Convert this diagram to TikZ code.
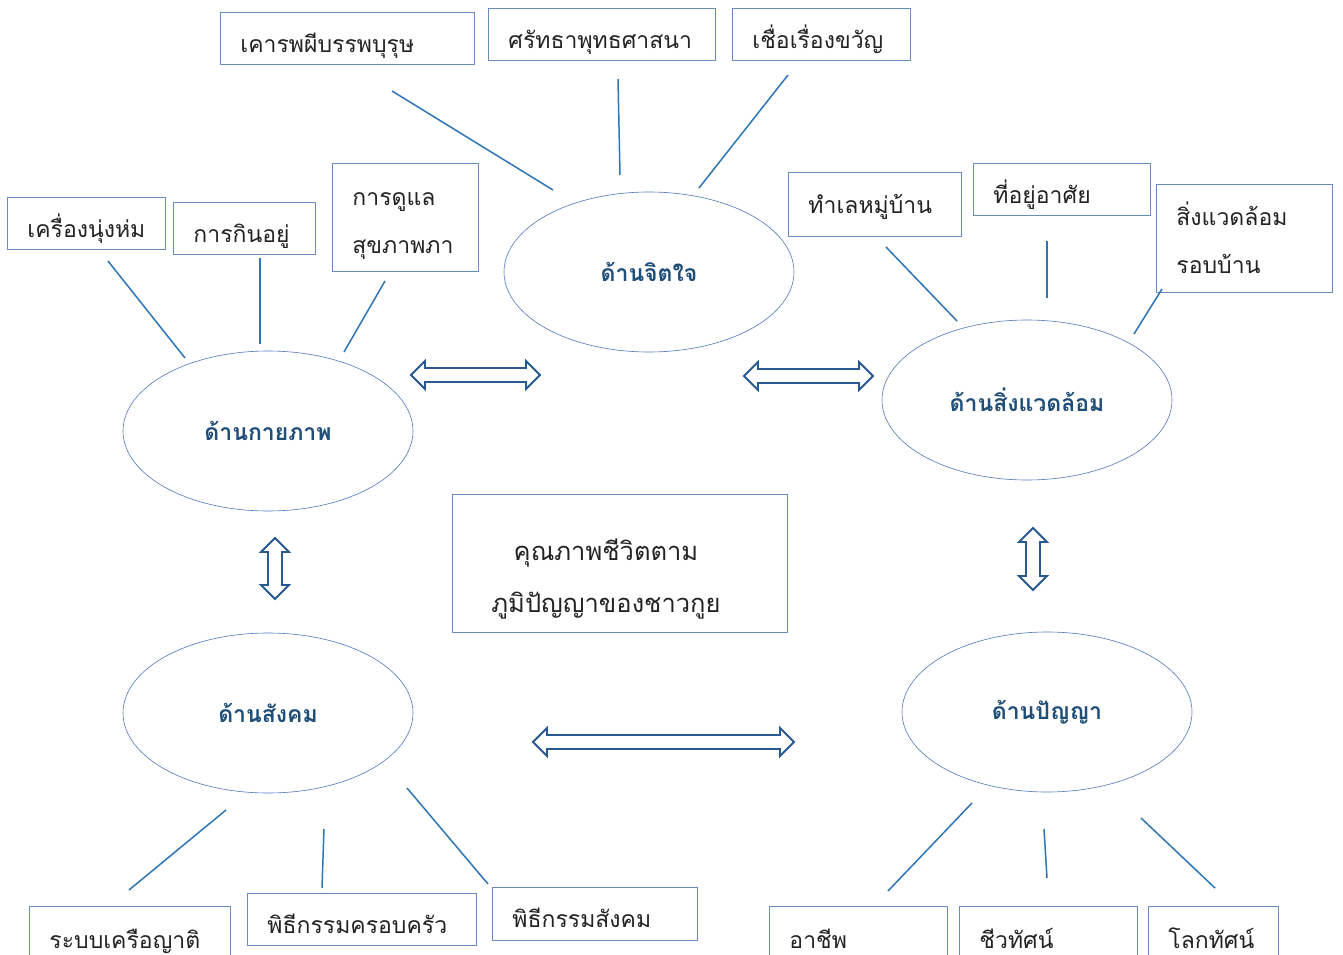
\documentclass[tikz,border=0pt]{standalone}
\usepackage{fontspec}
\usetikzlibrary{shapes.geometric}
\newfontfamily\thai[Script=Thai]{Loma}
\definecolor{boxc}{RGB}{105,140,190}
\definecolor{linkc}{RGB}{46,117,182}
\definecolor{ellc}{RGB}{80,120,190}
\definecolor{arrc}{RGB}{40,90,145}
\definecolor{elltxt}{RGB}{31,78,121}
\definecolor{txtc}{RGB}{35,35,35}
\newcommand\hdarrow[3]{%
  \draw[dbl] (#1,#3) -- ++(14,-14) -- ++(0,7) -- (#2-14,#3-7) -- ++(0,-7) -- (#2,#3) -- ++(-14,14) -- ++(0,-7) -- (#1+14,#3+7) -- ++(0,7) -- cycle;}
\newcommand\vdarrow[3]{%
  \draw[dbl] (#1,#2) -- ++(14,14) -- ++(-7,0) -- (#1+7,#3-14) -- ++(7,0) -- (#1,#3) -- ++(-14,-14) -- ++(7,0) -- (#1-7,#2+14) -- ++(-7,0) -- cycle;}
\newcommand\topstrut[1]{\rule{0pt}{#1}}
\newcommand\botstrut[1]{\rule[-#1]{0pt}{#1}}
\newcommand\padbox{\hbox to 28pt{}}
\begin{document}
\begin{tikzpicture}[x=1pt,y=-1pt,
  box/.style={draw=boxc, line width=0.9pt, rectangle, anchor=north west, inner xsep=20pt, inner ysep=0pt,
    align=left, font=\thai\fontsize{23}{48}\selectfont, text=txtc},
  one/.style={text height=34pt, text depth=6pt},
  ell/.style={draw=ellc, line width=0.6pt, ellipse, minimum width=290pt, minimum height=160pt, inner sep=0pt,
    font=\thai\bfseries\fontsize{23}{28}\selectfont, text=elltxt},
  link/.style={draw=linkc, line width=1.5pt},
  dbl/.style={draw=arrc, line width=1.8pt, fill=white, line join=miter}]
\useasboundingbox[fill=white] (0,0) rectangle (1343,955);

% boxes
\node[box, one, minimum width=254pt, minimum height=52pt, text width=214pt] (b1) at (220,12) {เคารพผีบรรพบุรุษ};
\node[box, one, minimum width=227pt, minimum height=52pt, text width=187pt] (b2) at (488,8) {ศรัทธาพุทธศาสนา};
\node[box, one, minimum width=178pt, minimum height=52pt, text width=138pt] (b3) at (732,8) {เชื่อเรื่องขวัญ};
\node[box, one, minimum width=158pt, minimum height=52pt, text width=118pt] (b4) at (7,197) {เครื่องนุ่งห่ม};
\node[box, one, minimum width=142pt, minimum height=52pt, text width=102pt] (b5) at (173,202) {การกินอยู่};
\node[box, minimum width=146pt, minimum height=108pt, text width=106pt] (b6) at (332,163)
  {\topstrut{34pt}การดูแล\\สุขภาพภา\botstrut{10pt}};
\node[box, one, minimum width=173pt, minimum height=64pt, text width=133pt, text height=24pt] (b7) at (788,172) {ทำเลหมู่บ้าน};
\node[box, one, minimum width=177pt, minimum height=52pt, text width=137pt] (b8) at (973,163) {ที่อยู่อาศัย};
\node[box, minimum width=176pt, minimum height=108pt, text width=136pt] (b9) at (1156,184)
  {\topstrut{32pt}สิ่งแวดล้อม\\รอบบ้าน\botstrut{10pt}};
\node[box, minimum width=335pt, minimum height=138pt, text width=295pt, align=center,
  font=\thai\fontsize{25.5}{52}\selectfont] (center) at (452,494)
  {\topstrut{56pt}คุณภาพชีวิตตาม\padbox\\ภูมิปัญญาของชาวกูย\padbox\botstrut{10pt}};
\node[box, one, minimum width=201pt, minimum height=56pt, text width=161pt] (b11) at (29,906) {ระบบเครือญาติ};
\node[box, one, minimum width=229pt, minimum height=52pt, text width=189pt] (b12) at (247,893) {พิธีกรรมครอบครัว};
\node[box, one, minimum width=205pt, minimum height=53pt, text width=165pt] (b13) at (492,887) {พิธีกรรมสังคม};
\node[box, one, minimum width=178pt, minimum height=56pt, text width=138pt] (b14) at (769,906) {อาชีพ};
\node[box, one, minimum width=178pt, minimum height=56pt, text width=138pt] (b15) at (959,906) {ชีวทัศน์};
\node[box, one, minimum width=130pt, minimum height=56pt, text width=90pt] (b16) at (1148,906) {โลกทัศน์};

% ellipses
\node[ell] (jit) at (649,272) {ด้านจิตใจ};
\node[ell] (kai) at (268,431) {ด้านกายภาพ};
\node[ell] (env) at (1027,400) {ด้านสิ่งแวดล้อม};
\node[ell] (soc) at (268,713) {ด้านสังคม};
\node[ell] (pan) at (1047,712) {ด้านปัญญา};

% link end points
\coordinate (a1) at (392,91);   \coordinate (e1) at (553,190);
\coordinate (a2) at (618,79);   \coordinate (e2) at (620,175);
\coordinate (a3) at (788,75);   \coordinate (e3) at (699,188);
\coordinate (a4) at (108,261);  \coordinate (e4) at (185,358);
\coordinate (a5) at (260,258);  \coordinate (e5) at (260,344);
\coordinate (a6) at (385,281);  \coordinate (e6) at (344,352);
\coordinate (a7) at (886,247);  \coordinate (e7) at (957,321);
\coordinate (a8) at (1047,241); \coordinate (e8) at (1047,298);
\coordinate (a9) at (1162,289); \coordinate (e9) at (1134,334);
\coordinate (a10) at (226,810); \coordinate (e10) at (129,890);
\coordinate (a11) at (324,829); \coordinate (e11) at (322,888);
\coordinate (a12) at (407,788); \coordinate (e12) at (488,884);
\coordinate (a13) at (972,803); \coordinate (e13) at (888,891);
\coordinate (a14) at (1044,829);\coordinate (e14) at (1047,878);
\coordinate (a15) at (1141,818);\coordinate (e15) at (1215,888);
\foreach \i in {1,...,15} {\draw[link] (a\i) -- (e\i);}

% double arrows
\hdarrow{411}{540}{375}
\hdarrow{744}{873}{376}
\hdarrow{533}{794}{742}
\vdarrow{275}{538}{599}
\vdarrow{1033}{528}{590}
\end{tikzpicture}
\end{document}
